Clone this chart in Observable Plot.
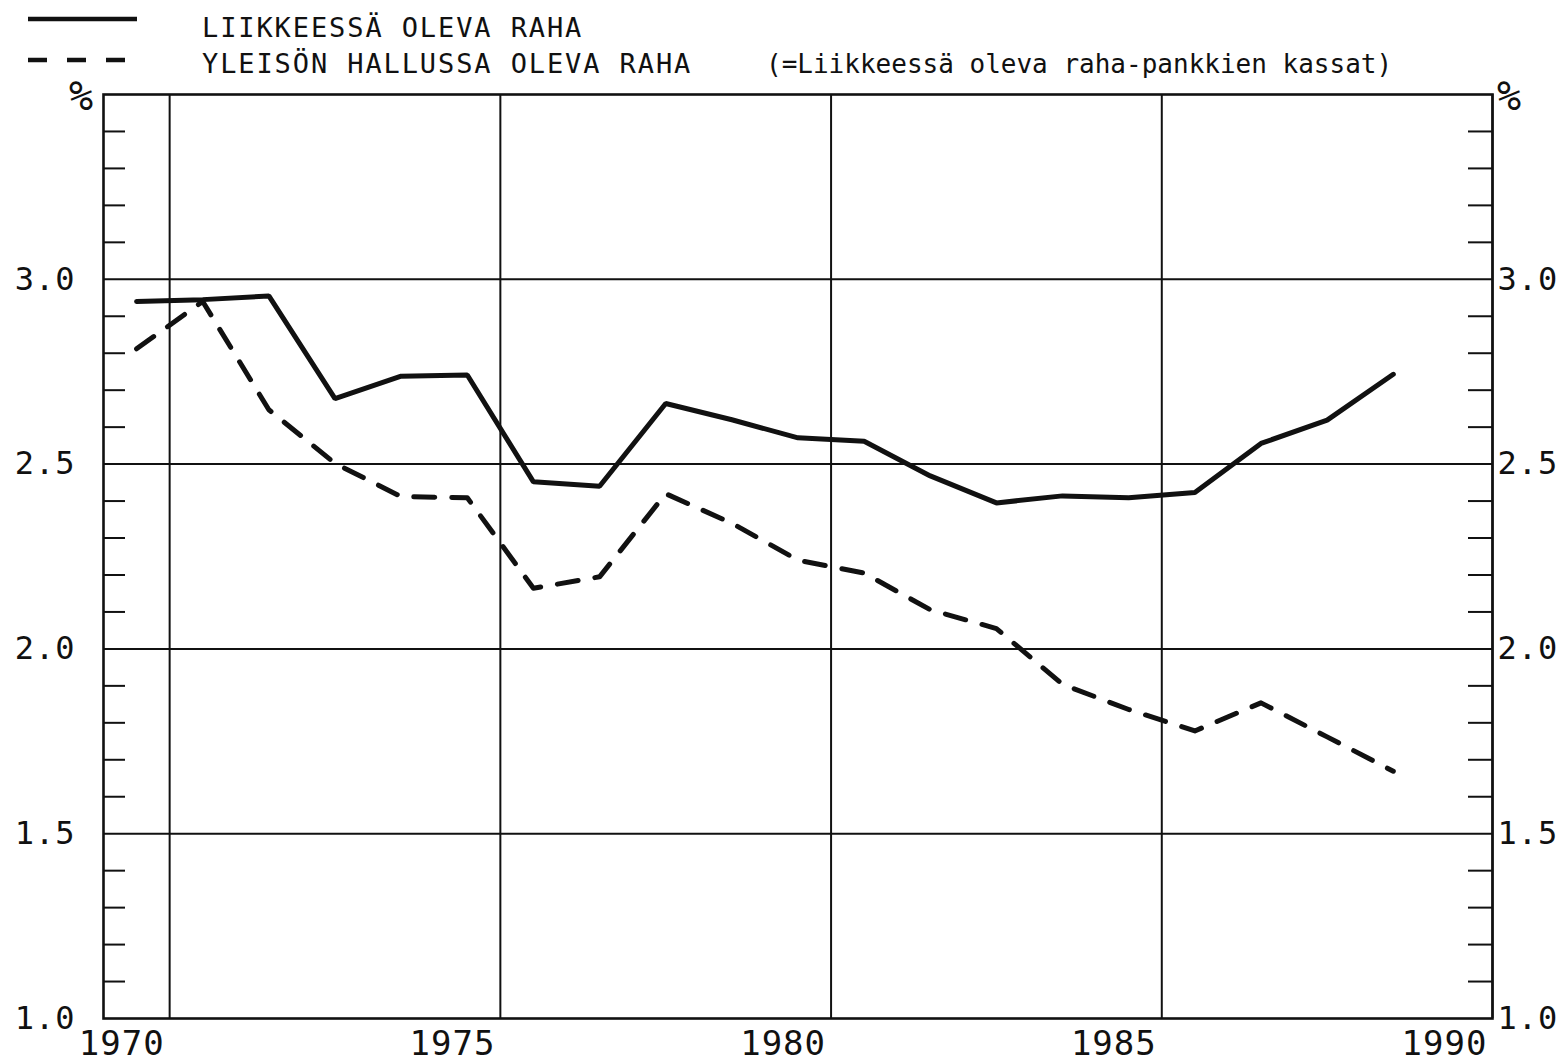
<!DOCTYPE html>
<html>
<head>
<meta charset="utf-8">
<script src="https://cdn.jsdelivr.net/npm/d3@7"></script>
<script src="https://cdn.jsdelivr.net/npm/@observablehq/plot@0.6"></script>
<style>
  html, body { margin: 0; padding: 0; background: #fff; }
  #wrap { width: 1563px; height: 1064px; overflow: hidden; background: #fff; }
  #legend { display: block; }
  #chart svg text { letter-spacing: 1px; }
</style>
</head>
<body>
<div id="wrap">
  <svg id="legend" width="1563" height="78" xmlns="http://www.w3.org/2000/svg"></svg>
  <div id="chart"></div>
</div>
<script>
// ---- data ----
const years = [1970, 1971, 1972, 1973, 1974, 1975, 1976, 1977, 1978, 1979,
               1980, 1981, 1982, 1983, 1984, 1985, 1986, 1987, 1988, 1989];
// LIIKKEESSÄ OLEVA RAHA (solid)
const circulation = [2.940, 2.945, 2.955, 2.677, 2.738, 2.741, 2.452, 2.440, 2.664, 2.620,
                     2.571, 2.562, 2.468, 2.395, 2.414, 2.409, 2.423, 2.556, 2.619, 2.743];
// YLEISÖN HALLUSSA OLEVA RAHA (dashed)
const publicHeld = [2.812, 2.940, 2.647, 2.502, 2.412, 2.409, 2.164, 2.195, 2.420, 2.340,
                    2.240, 2.205, 2.106, 2.055, 1.904, 1.836, 1.778, 1.854, 1.762, 1.669];
const xLabelYears = [1970, 1975, 1980, 1985, 1990];
const yLabelValues = [1.0, 1.5, 2.0, 2.5, 3.0];
const yGridValues = [1.5, 2.0, 2.5, 3.0];
const legendLabels = ["LIIKKEESSÄ OLEVA RAHA", "YLEISÖN HALLUSSA OLEVA RAHA", "(=Liikkeessä oleva raha-pankkien kassat)"];
const unitLabel = "%";

// ---- build rows ----
const rows = years.map((yr, i) => ({year: yr, mid: yr + 0.5, circ: circulation[i], pub: publicHeld[i]}));
const minorTicks = d3.range(11, 35).map(d => d / 10).filter(v => Math.abs(v * 2 - Math.round(v * 2)) > 1e-6);

const W = 1563, H = 986;
const mL = 103, mR = 71, mT = 16, mB = 46;
const innerW = W - mL - mR;
const ink = "#111";
const font = "'DejaVu Sans Mono', 'Liberation Mono', monospace";

const chart = Plot.plot({
  width: W, height: H,
  marginLeft: mL, marginRight: mR, marginTop: mT, marginBottom: mB,
  x: {domain: [1970, 1991]},
  y: {domain: [1.0, 3.5]},
  style: {fontFamily: font, fontSize: "32px", color: ink, background: "#fff", overflow: "visible"},
  marks: [
    Plot.ruleY(yGridValues, {stroke: ink, strokeWidth: 2}),
    Plot.ruleX(xLabelYears.map(y => y + 1), {stroke: ink, strokeWidth: 2}),
    Plot.tickY(minorTicks, {y: d => d, stroke: ink, strokeWidth: 2, insetRight: innerW - 22}),
    Plot.tickY(minorTicks, {y: d => d, stroke: ink, strokeWidth: 2, insetLeft: innerW - 24}),
    Plot.frame({stroke: ink, strokeWidth: 2.6}),
    Plot.line(rows, {x: "mid", y: "circ", stroke: ink, strokeWidth: 5, strokeLinejoin: "miter"}),
    Plot.line(rows, {x: "mid", y: "pub", stroke: ink, strokeWidth: 5, strokeDasharray: "21,17"}),
    Plot.axisY({anchor: "left", ticks: yLabelValues, tickFormat: d => d.toFixed(1), tickSize: 0, tickPadding: 28, fontSize: 32, label: null}),
    Plot.axisY({anchor: "right", ticks: yLabelValues, tickFormat: d => d.toFixed(1), tickSize: 0, tickPadding: 5, fontSize: 32, label: null}),
    Plot.axisX({ticks: xLabelYears.map(y => y + 1), tickFormat: d => String(d - 1), tickSize: 0, tickPadding: 12, textAnchor: "end", dx: -5, fontSize: 34, label: null}),
    Plot.text([unitLabel], {text: d => d, frameAnchor: "top-left", dx: -22, dy: 3, fontSize: "40px", textAnchor: "middle", lineAnchor: "middle", fill: ink}),
    Plot.text([unitLabel], {text: d => d, frameAnchor: "top-right", dx: 17, dy: 3, fontSize: "40px", textAnchor: "middle", lineAnchor: "middle", fill: ink})
  ]
});
document.getElementById("chart").appendChild(chart);

// ---- legend ----
const lg = d3.select("#legend");
lg.append("line").attr("x1", 28).attr("x2", 137).attr("y1", 19).attr("y2", 19)
  .attr("stroke", ink).attr("stroke-width", 4.5);
lg.append("line").attr("x1", 28).attr("x2", 127).attr("y1", 60).attr("y2", 60)
  .attr("stroke", ink).attr("stroke-width", 4.5).attr("stroke-dasharray", "19,20");
lg.append("text").attr("x", 202).attr("y", 37).text(legendLabels[0])
  .attr("font-family", font).attr("font-size", 27).attr("letter-spacing", "1.9px").attr("fill", ink);
lg.append("text").attr("x", 202).attr("y", 73).text(legendLabels[1])
  .attr("font-family", font).attr("font-size", 27).attr("letter-spacing", "1.9px").attr("fill", ink);
lg.append("text").attr("x", 766).attr("y", 73).text(legendLabels[2])
  .attr("font-family", font).attr("font-size", 26).attr("fill", ink);
</script>
</body>
</html>
